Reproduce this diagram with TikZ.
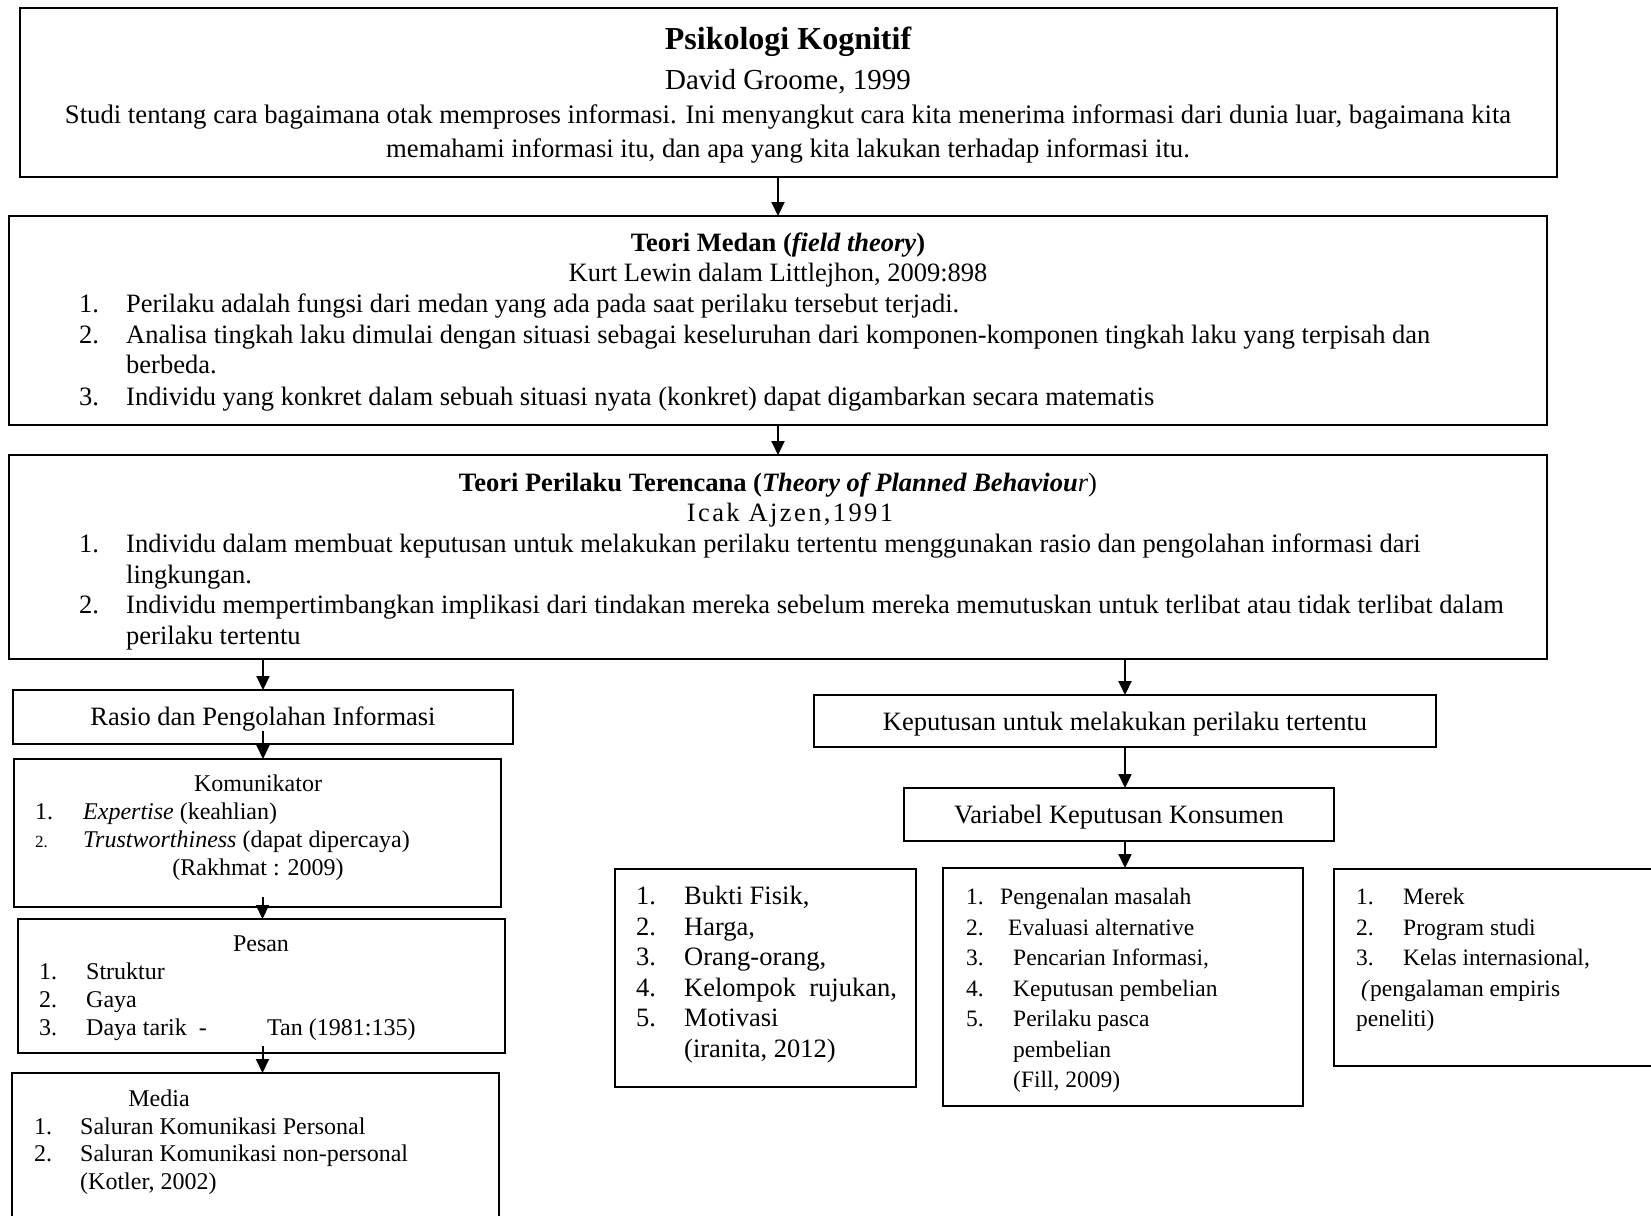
\documentclass[tikz,border=0pt]{standalone}
\usepackage{fontspec}
\setmainfont{Liberation Serif}
\usetikzlibrary{arrows.meta,fit}

\begin{document}
\begin{tikzpicture}[x=1pt,y=-1pt,
  box/.style={draw=black,line width=1.9pt,inner sep=0pt,outer sep=0pt,rectangle},
  arr/.style={line width=2pt,-{Triangle[length=14pt,width=13pt]}},
  tl/.style={inner sep=0pt,anchor=base west},
  tc/.style={inner sep=0pt,anchor=base},
  fA/.style={font=\fontsize{29}{34}\selectfont},
  fL/.style={font=\fontsize{26.7}{34}\selectfont},
  fT/.style={font=\fontsize{32}{37}\selectfont\bfseries},
  fB/.style={font=\fontsize{26.5}{30.5}\selectfont},
  fC/.style={font=\fontsize{24}{28}\selectfont},
  fS/.style={font=\fontsize{17}{20}\selectfont},
  fD/.style={font=\fontsize{23.5}{30.5}\selectfont}]
\useasboundingbox (0,0) rectangle (1651,1215);
\clip (0,0) rectangle (1651,1215);

% ---------- boxes ----------
\node[box,fit={(20,8)(1557,177)}] (b1) {};
\node[box,fit={(9,216)(1547,425)}] (b2) {};
\node[box,fit={(9,455)(1547,659)}] (b3) {};
\node[box,fit={(13,690)(513,744)}] (rasio) {};
\node[box,fit={(14,759)(501,907)}] (kom) {};
\node[box,fit={(18,919)(505,1053)}] (pesan) {};
\node[box,fit={(12,1073)(499,1240)}] (media) {};
\node[box,fit={(814,695)(1436,747)}] (kep) {};
\node[box,fit={(904,788)(1334,841)}] (var) {};
\node[box,fit={(615,869)(916,1087)}] (bukti) {};
\node[box,fit={(943,868)(1303,1106)}] (peng) {};
\node[box,fit={(1334,869)(1690,1066)}] (merek) {};

% ---------- connectors ----------
\draw[arr] (b1.south -| b2.north) -- (b2.north);
\draw[arr] (b2.south) -- (b3.north);
\draw[arr] (b3.south -| rasio.north) -- (rasio.north);
\draw[arr] (b3.south -| kep.north) -- (kep.north);
\draw[arr] ([yshift=13pt]rasio.south) -- (rasio.south |- kom.north);
\draw[arr] ([xshift=5pt,yshift=10pt]kom.south) -- ([xshift=5pt]kom.south |- pesan.north);
\draw[arr] ([xshift=1pt,yshift=7pt]pesan.south) -- ([xshift=1pt]pesan.south |- media.north);
\draw[arr] (kep.south) -- (kep.south |- var.north);
\draw[arr] (kep.south |- var.south) -- (kep.south |- peng.north);

% ---------- Psikologi Kognitif ----------
\node[tc,fT] (t1a) at (788,49) {Psikologi Kognitif};
\node[tc,fA] (t1b) at (788,89) {David Groome, 1999};
\node[tc,fL] (t1c) at (788,123) {Studi tentang cara bagaimana otak memproses informasi. Ini menyangkut cara kita menerima informasi dari dunia luar, bagaimana kita};
\node[tc,fL] (t1d) at (788,157) {memahami informasi itu, dan apa yang kita lakukan terhadap informasi itu.};

% ---------- Teori Medan ----------
\node[tc,fB] (t2a) at (778,251) {\textbf{Teori Medan (\textit{field theory})}};
\node[tc,fB] (t2b) at (778,281) {Kurt Lewin dalam Littlejhon, 2009:898};
\node[tl,fB] (t2n1) at (79,312) {1.};
\node[tl,fB] (t2l1) at (126,312) {Perilaku adalah fungsi dari medan yang ada pada saat perilaku tersebut terjadi.};
\node[tl,fB] (t2n2) at (79,343) {2.};
\node[tl,fB] (t2l2) at (126,343) {Analisa tingkah laku dimulai dengan situasi sebagai keseluruhan dari komponen-komponen tingkah laku yang terpisah dan};
\node[tl,fB] (t2l2b) at (126,373) {berbeda.};
\node[tl,fB] (t2n3) at (79,405) {3.};
\node[tl,fB] (t2l3) at (126,405) {Individu yang konkret dalam sebuah situasi nyata (konkret) dapat digambarkan secara matematis};

% ---------- Teori Perilaku Terencana ----------
\node[tc,fB] (t3a) at (778,491) {\textbf{Teori Perilaku Terencana (\textit{Theory of Planned Behaviou}}\textit{r})};
\node[tc,fB] (t3b) at (790,521) {\addfontfeatures{LetterSpace=9}Icak Ajzen,1991};
\node[tl,fB] (t3n1) at (79,552) {1.};
\node[tl,fB] (t3l1) at (126,552) {Individu dalam membuat keputusan untuk melakukan perilaku tertentu menggunakan rasio dan pengolahan informasi dari};
\node[tl,fB] (t3l1b) at (126,583) {lingkungan.};
\node[tl,fB] (t3n2) at (79,613) {2.};
\node[tl,fB] (t3l2) at (126,613) {Individu mempertimbangkan implikasi dari tindakan mereka sebelum mereka memutuskan untuk terlibat atau tidak terlibat dalam};
\node[tl,fB] (t3l2b) at (126,644) {perilaku tertentu};

% ---------- left column ----------
\node[tc,fB] (tr) at (263,725) {Rasio dan Pengolahan Informasi};

\node[tc,fC] (tk0) at (258,791) {Komunikator};
\node[tl,fC] (tkn1) at (35,819) {1.};
\node[tl,fC] (tk1) at (83,819) {\textit{Expertise} (keahlian)};
\node[tl,fS] (tkn2) at (35,847) {2.};
\node[tl,fC] (tk2) at (83,847) {\textit{Trustworthiness} (dapat dipercaya)};
\node[tc,fC] (tk3) at (258,875) {(Rakhmat : 2009)};

\node[tc,fC] (tp0) at (261,951) {Pesan};
\node[tl,fC] (tpn1) at (39,979) {1.};
\node[tl,fC] (tp1) at (86,979) {Struktur};
\node[tl,fC] (tpn2) at (39,1007) {2.};
\node[tl,fC] (tp2) at (86,1007) {Gaya};
\node[tl,fC] (tpn3) at (39,1035) {3.};
\node[tl,fC] (tp3) at (86,1035) {Daya tarik\ \ -};
\node[tl,fC] (tp3b) at (267,1035) {Tan (1981:135)};

\node[tc,fC] (tm0) at (159,1106) {Media};
\node[tl,fC] (tmn1) at (34,1134) {1.};
\node[tl,fC] (tm1) at (80,1134) {Saluran Komunikasi Personal};
\node[tl,fC] (tmn2) at (34,1161) {2.};
\node[tl,fC] (tm2) at (80,1161) {Saluran Komunikasi non-personal};
\node[tl,fC] (tm3) at (80,1189) {(Kotler, 2002)};

% ---------- right column ----------
\node[tc,fB] (tkp) at (1125,730) {Keputusan untuk melakukan perilaku tertentu};
\node[tc,fB] (tv) at (1119,823) {Variabel Keputusan Konsumen};

\node[tl,fB] (tbn1) at (636,904) {1.};
\node[tl,fB] (tb1) at (684,904) {Bukti Fisik,};
\node[tl,fB] (tbn2) at (636,935) {2.};
\node[tl,fB] (tb2) at (684,935) {Harga,};
\node[tl,fB] (tbn3) at (636,965) {3.};
\node[tl,fB] (tb3) at (684,965) {Orang-orang,};
\node[tl,fB] (tbn4) at (636,996) {4.};
\node[tl,fB] (tb4) at (684,996) {Kelompok\ \ rujukan,};
\node[tl,fB] (tbn5) at (636,1026) {5.};
\node[tl,fB] (tb5) at (684,1026) {Motivasi};
\node[tl,fB] (tb6) at (684,1057) {(iranita, 2012)};

\node[tl,fD] (tgn1) at (966,904) {1.};
\node[tl,fD] (tg1) at (1000,904) {Pengenalan masalah};
\node[tl,fD] (tgn2) at (966,935) {2.};
\node[tl,fD] (tg2) at (1008,935) {Evaluasi alternative};
\node[tl,fD] (tgn3) at (966,965) {3.};
\node[tl,fD] (tg3) at (1013,965) {Pencarian Informasi,};
\node[tl,fD] (tgn4) at (966,996) {4.};
\node[tl,fD] (tg4) at (1013,996) {Keputusan pembelian};
\node[tl,fD] (tgn5) at (966,1026) {5.};
\node[tl,fD] (tg5) at (1013,1026) {Perilaku pasca};
\node[tl,fD] (tg5b) at (1013,1057) {pembelian};
\node[tl,fD] (tg6) at (1013,1087) {(Fill, 2009)};

\node[tl,fD] (ten1) at (1356,904) {1.};
\node[tl,fD] (te1) at (1403,904) {Merek};
\node[tl,fD] (ten2) at (1356,935) {2.};
\node[tl,fD] (te2) at (1403,935) {Program studi};
\node[tl,fD] (ten3) at (1356,965) {3.};
\node[tl,fD] (te3) at (1403,965) {Kelas internasional,};
\node[tl,fD] (te4) at (1361,996) {\textit{(}pengalaman empiris};
\node[tl,fD] (te5) at (1356,1026) {peneliti)};
\end{tikzpicture}
\end{document}
